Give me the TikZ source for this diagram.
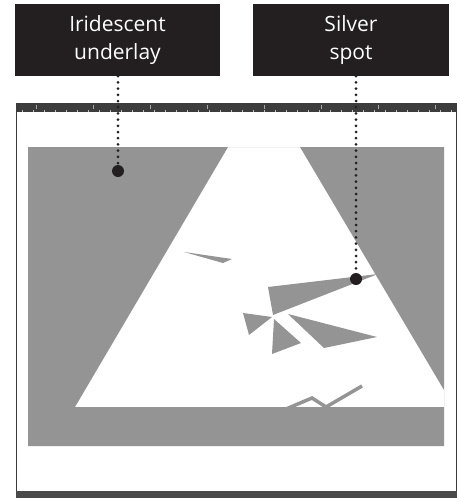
\documentclass[tikz,border=0pt]{standalone}
\usepackage{fontspec}
\setmainfont{Open Sans}
\definecolor{boxdark}{HTML}{231F20}
\definecolor{shapegray}{HTML}{949494}
\definecolor{bardark}{HTML}{3C3C3C}
\definecolor{barbottom}{HTML}{4A4A4A}
\begin{document}
\begin{tikzpicture}[x=1pt,y=-1pt,
  labelbox/.style={fill=boxdark,text=white,align=center,font=\fontsize{21}{28}\selectfont,inner sep=0pt},
  dotline/.style={line width=3pt,line cap=round,dash pattern=on 0pt off 6.2pt,draw=boxdark},
  pin/.style={circle,fill=boxdark,minimum size=12pt,inner sep=0pt},
  gshape/.style={fill=shapegray,draw=none}]
\useasboundingbox (0,0) rectangle (459,498);
% screen frame
\fill[white] (16,103) rectangle (457,498);
\draw[bardark,line width=1.2pt] (16.6,103) -- (16.6,498) (456.4,103) -- (456.4,498);
\fill[bardark] (16,103) rectangle (457,112);
\foreach \x in {36,93,150,207,264,321,378,435}{\draw[gray!70,line width=0.5pt] (\x,105) -- (\x,109);}
\foreach \x in {22,33,...,452}{\draw[gray!50,line width=0.3pt] (\x,110) -- (\x,112);}
\fill[barbottom] (16,491) rectangle (457,498);
% main gray shape with white trapezoid cut out
\fill[shapegray,even odd rule] (28,147) rectangle (444,446)
  (228,147) -- (300,147) -- (444,390) -- (444,407) -- (75,407) -- cycle;
% fragments
\fill[gshape] (184,252) -- (232,259) -- (223,263) -- cycle;
\fill[gshape] (268,287) -- (378,274) -- (273,315) -- cycle;
\fill[gshape] (243,313) -- (272,317) -- (249,335) -- cycle;
\fill[gshape] (274,319) -- (301,343) -- (272,354) -- cycle;
\fill[gshape] (288,314) -- (377,337) -- (324,348) -- cycle;
\draw[shapegray,line width=3.5pt,line join=miter] (286,409) -- (312,398) -- (326,407) -- (362,386);
% labels
\node[labelbox,minimum width=205pt,minimum height=72pt] (lab1) at (117.5,40) {Iridescent\\underlay};
\node[labelbox,minimum width=196pt,minimum height=72pt] (lab2) at (351,40) {Silver\\spot};
\node[pin] (p1) at (118,171) {};
\node[pin] (p2) at (356,279) {};
\draw[dotline] (lab1.south -| p1) -- (p1.center);
\draw[dotline] (lab2.south -| p2) -- (p2.center);
\end{tikzpicture}
\end{document}
